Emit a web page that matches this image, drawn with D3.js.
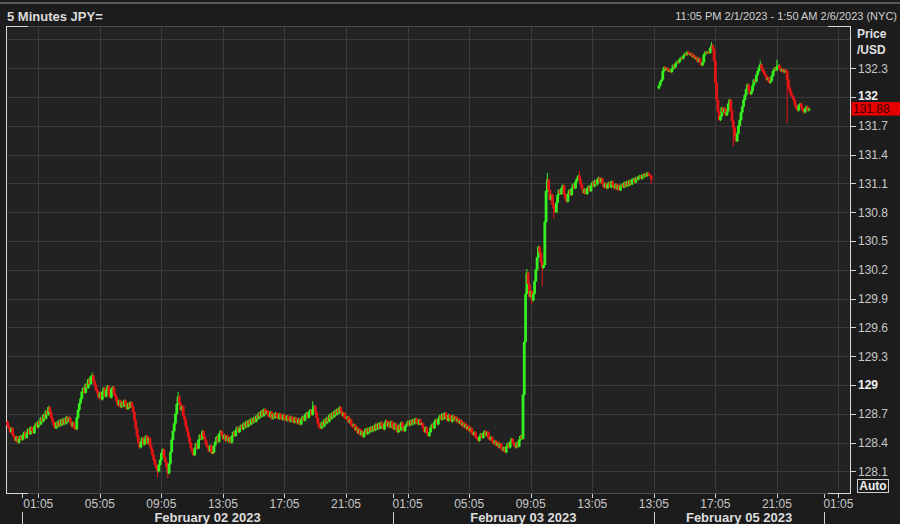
<!DOCTYPE html>
<html><head><meta charset="utf-8">
<script src="https://cdn.jsdelivr.net/npm/d3@7"></script>
<style>html,body{margin:0;padding:0;background:#1c1c1c;overflow:hidden}svg{display:block}</style>
</head><body><svg id="c" width="900" height="524"></svg>
<script>
// ---- DATA ----
const titleText = "5 Minutes JPY=";
const rangeText = "11:05 PM 2/1/2023 - 1:50 AM 2/6/2023 (NYC)";
// 5-minute closes, Feb 1 23:05 -> Feb 3 16:55 (bar slots 0..502)
const seg1Start = 0;
const seg1Open = 128.62;
const seg1Close = [
128.58,128.55,128.51,128.55,128.48,128.46,128.42,128.46,128.40,128.44,128.47,128.43,
128.48,128.51,128.45,128.50,128.54,128.49,128.56,128.52,128.50,128.57,128.60,128.56,
128.62,128.59,128.66,128.62,128.69,128.65,128.73,128.69,128.77,128.72,128.66,128.62,
128.58,128.55,128.61,128.57,128.63,128.58,128.64,128.59,128.65,128.60,128.67,128.62,
128.66,128.61,128.57,128.61,128.55,128.54,128.66,128.74,128.81,128.86,128.93,128.97,
128.92,129.01,128.97,129.06,129.01,129.09,129.10,129.04,129.00,128.95,128.92,128.87,
128.92,128.85,128.93,128.97,128.88,128.95,128.99,128.90,128.87,128.96,128.98,128.91,
128.88,128.83,128.79,128.84,128.77,128.82,128.78,128.84,128.79,128.75,128.81,128.77,
128.82,128.77,128.72,128.63,128.55,128.47,128.40,128.35,128.41,128.45,128.38,128.44,
128.47,128.39,128.45,128.37,128.33,128.27,128.22,128.17,128.13,128.10,128.17,128.22,
128.29,128.33,128.25,128.20,128.14,128.08,128.18,128.30,128.43,128.52,128.60,128.70,
128.80,128.88,128.81,128.74,128.78,128.68,128.64,128.57,128.52,128.46,128.40,128.34,
128.30,128.27,128.34,128.39,128.34,128.43,128.48,128.44,128.52,128.46,128.42,128.37,
128.35,128.31,128.37,128.30,128.30,128.37,128.41,128.46,128.41,128.49,128.52,128.48,
128.44,128.48,128.42,128.47,128.41,128.45,128.40,128.47,128.51,128.47,128.53,128.56,
128.51,128.55,128.58,128.54,128.60,128.56,128.62,128.57,128.63,128.59,128.65,128.61,
128.66,128.62,128.68,128.65,128.71,128.67,128.73,128.68,128.75,128.70,128.73,128.69,
128.67,128.72,128.65,128.70,128.66,128.71,128.67,128.65,128.70,128.66,128.64,128.69,
128.65,128.63,128.68,128.64,128.62,128.67,128.63,128.61,128.66,128.62,128.60,128.65,
128.59,128.64,128.67,128.63,128.69,128.71,128.66,128.72,128.74,128.69,128.75,128.78,
128.72,128.66,128.60,128.56,128.55,128.61,128.57,128.64,128.60,128.66,128.62,128.69,
128.65,128.71,128.67,128.73,128.69,128.75,128.71,128.77,128.72,128.68,128.71,128.66,
128.65,128.67,128.61,128.64,128.58,128.57,128.59,128.53,128.56,128.50,128.54,128.48,
128.52,128.46,128.51,128.54,128.49,128.55,128.51,128.56,128.52,128.57,128.53,128.59,
128.54,128.60,128.55,128.61,128.57,128.54,128.60,128.63,128.57,128.61,128.56,128.62,
128.57,128.54,128.60,128.55,128.51,128.58,128.53,128.61,128.56,128.52,128.57,128.59,
128.62,128.58,128.63,128.59,128.64,128.60,128.65,128.61,128.59,128.64,128.60,128.60,
128.55,128.51,128.56,128.50,128.47,128.51,128.56,128.59,128.55,128.62,128.64,128.59,
128.65,128.68,128.64,128.70,128.65,128.71,128.66,128.63,128.69,128.65,128.62,128.68,
128.64,128.67,128.62,128.65,128.60,128.63,128.58,128.61,128.56,128.59,128.54,128.57,
128.52,128.55,128.50,128.48,128.51,128.46,128.44,128.42,128.46,128.49,128.45,128.50,
128.52,128.47,128.51,128.45,128.43,128.46,128.41,128.39,128.42,128.37,128.40,128.35,
128.39,128.34,128.32,128.35,128.30,128.36,128.39,128.35,128.41,128.44,128.40,128.37,
128.35,128.40,128.36,128.43,128.47,128.44,128.90,129.45,129.95,130.17,130.05,129.92,
129.98,129.88,129.95,130.08,130.20,130.33,130.44,130.38,130.28,130.22,130.25,130.70,
131.02,131.14,131.03,130.93,130.98,130.88,130.84,130.80,130.90,130.98,131.03,130.99,
131.05,131.08,130.99,130.94,130.91,130.99,131.03,130.98,131.05,131.09,131.05,131.12,
131.15,131.18,131.14,131.09,131.04,131.00,131.04,130.99,131.05,131.07,131.02,131.08,
131.11,131.07,131.13,131.09,131.14,131.16,131.11,131.15,131.09,131.06,131.10,131.05,
131.09,131.11,131.06,131.12,131.08,131.05,131.09,131.04,131.08,131.03,131.07,131.09,
131.06,131.11,131.07,131.12,131.08,131.13,131.09,131.14,131.15,131.11,131.16,131.14,
131.17,131.18,131.15,131.19,131.17,131.20,131.18,131.21,131.19,131.18,131.14
];
// Sunday-open session (bar slots 508..625)
const seg2Start = 508;
const seg2Open = 132.09;
const seg2Close = [
132.12,132.16,132.18,132.27,132.31,132.29,132.30,132.27,132.28,132.26,132.29,132.33,
132.31,132.35,132.37,132.36,132.39,132.41,132.40,132.43,132.45,132.44,132.47,132.46,
132.44,132.45,132.42,132.43,132.40,132.41,132.37,132.40,132.36,132.33,132.36,132.44,
132.47,132.46,132.47,132.46,132.51,132.54,132.50,132.38,132.15,131.97,131.85,131.76,
131.80,131.89,131.84,131.88,131.81,131.85,131.93,131.97,131.86,131.75,131.68,131.60,
131.54,131.62,131.70,131.76,131.84,131.90,131.97,132.02,132.08,132.13,132.07,132.03,
132.06,132.12,132.18,132.16,132.23,132.27,132.31,132.34,132.30,132.27,132.24,132.22,
132.18,132.20,132.15,132.17,132.22,132.27,132.30,132.28,132.32,132.33,132.30,132.27,
132.29,132.26,132.28,132.27,132.18,132.10,132.06,132.02,132.00,131.97,131.92,131.88,
131.86,131.91,131.93,131.89,131.86,131.84,131.88,131.90,131.86,131.88
];
// Visible wicks
const wickSlots = [66, 117, 125, 133, 238, 405, 409, 417, 421, 426, 446, 502, 549, 566, 587, 600, 608];
const wickHigh  = [129.12, null, null, 128.92, 128.82, 130.20, null, null, 131.20, null, 131.22, null, 132.56, null, 132.37, 132.38, null];
const wickLow   = [null, 128.05, 128.04, null, null, null, 129.85, 130.04, null, 130.74, null, 131.10, null, 131.50, null, null, 131.74];

const xTickSlots  = [24, 72, 120, 168, 216, 264, 312, 360, 408, 456, 504, 552, 600, 648];
const xTickLabels = ["01:05","05:05","09:05","13:05","17:05","21:05","01:05","05:05","09:05","13:05","13:05","17:05","21:05","01:05"];
const daySepSlots = [11.5, 300.5, 504, 637];
const dayLabels   = ["February 02 2023", "February 03 2023", "February 05 2023"];
const yTicks = [128.1,128.4,128.7,129.0,129.3,129.6,129.9,130.2,130.5,130.8,131.1,131.4,131.7,132.0,132.3,132.6];
const lastPrice = 131.88;

// ---- BUILD CANDLES ----
function build(start, open0, closes) {
  const out = [];
  let prev = open0;
  closes.forEach((c, i) => {
    const slot = start + i;
    const o = prev;
    let hi = Math.max(o, c), lo = Math.min(o, c);
    const w = wickSlots.indexOf(slot);
    if (w >= 0) {
      if (wickHigh[w] != null) hi = Math.max(hi, wickHigh[w]);
      if (wickLow[w] != null) lo = Math.min(lo, wickLow[w]);
    }
    out.push({slot, o, c, hi, lo});
    prev = c;
  });
  return out;
}
const candles = build(seg1Start, seg1Open, seg1Close).concat(build(seg2Start, seg2Open, seg2Close));

// ---- LAYOUT ----
const L = 6, R = 850, T = 26, B = 493;
const svg = d3.select("#c");
const x = d3.scaleLinear().domain([-1.17, 657]).range([L, R]);
const y = d3.scaleLinear().domain([127.876, 132.74]).range([B, T]);
const FONT = "'Liberation Sans', Arial, sans-serif";

svg.append("rect").attr("width", 900).attr("height", 524).attr("fill", "#1c1c1c");
svg.append("rect").attr("x", 0).attr("y", 2).attr("width", 900).attr("height", 2).attr("fill", "#5a5a5a");
svg.append("rect").attr("x", L).attr("y", T).attr("width", R - L).attr("height", B - T).attr("fill", "#222222");

// grid
const grid = svg.append("g").attr("stroke", "#3a3a3a").attr("stroke-width", 1).attr("shape-rendering", "crispEdges");
grid.selectAll("line.h").data(yTicks).join("line").attr("class", "h")
  .attr("x1", L).attr("x2", R).attr("y1", d => Math.round(y(d)) + 0.5).attr("y2", d => Math.round(y(d)) + 0.5);
grid.selectAll("line.v").data(xTickSlots).join("line").attr("class", "v")
  .attr("y1", T).attr("y2", B).attr("x1", d => Math.round(x(d)) + 0.5).attr("x2", d => Math.round(x(d)) + 0.5);

// frame
const fr = svg.append("g").attr("shape-rendering", "crispEdges");
fr.append("line").attr("x1", L).attr("x2", R).attr("y1", T + 0.5).attr("y2", T + 0.5).attr("stroke", "#4a4a4a");
fr.append("line").attr("x1", L).attr("x2", R).attr("y1", B + 0.5).attr("y2", B + 0.5).attr("stroke", "#4a4a4a");
[[L, L + 22, T], [L, L + 22, B], [R - 22, R, T], [R - 22, R, B]].forEach(s =>
  fr.append("line").attr("x1", s[0]).attr("x2", s[1]).attr("y1", s[2] + 0.5).attr("y2", s[2] + 0.5).attr("stroke", "#d8d8d8").attr("stroke-width", 1.5));
fr.append("line").attr("x1", L + 0.5).attr("x2", L + 0.5).attr("y1", T).attr("y2", B + 1).attr("stroke", "#d8d8d8").attr("stroke-width", 1.5);
fr.append("line").attr("x1", R + 0.5).attr("x2", R + 0.5).attr("y1", T).attr("y2", B + 1).attr("stroke", "#d8d8d8").attr("stroke-width", 1.5);

// candles
const col = d => d.c > d.o ? "#35ef20" : (d.c < d.o ? "#e41515" : "#c9b21c");
const cg = svg.append("g");
cg.selectAll("line.w").data(candles).join("line").attr("class", "w")
  .attr("x1", d => x(d.slot)).attr("x2", d => x(d.slot))
  .attr("y1", d => y(d.hi) - 1).attr("y2", d => y(d.lo) + 1)
  .attr("stroke", col).attr("stroke-width", 1);
cg.selectAll("rect").data(candles).join("rect")
  .attr("x", d => x(d.slot) - 1.4).attr("width", 2.8)
  .attr("y", d => y(Math.max(d.o, d.c)))
  .attr("height", d => Math.max(1.5, Math.abs(y(d.o) - y(d.c))))
  .attr("fill", col);

// y axis
const ya = svg.append("g");
const yLab = yTicks.filter(v => v <= 132.3);
ya.selectAll("line").data(yLab).join("line")
  .attr("x1", R).attr("x2", R + 6).attr("y1", d => Math.round(y(d)) + 0.5).attr("y2", d => Math.round(y(d)) + 0.5)
  .attr("stroke", "#d0d0d0").attr("shape-rendering", "crispEdges");
ya.selectAll("text").data(yLab).join("text")
  .attr("x", R + 8).attr("y", d => y(d) - (d === 132 ? 1 : 0)).attr("dy", "0.36em")
  .attr("font-family", FONT).attr("font-size", 12)
  .attr("font-weight", d => Number.isInteger(Math.round(d * 10) / 10) ? "bold" : "normal")
  .attr("fill", d => Number.isInteger(Math.round(d * 10) / 10) ? "#f0f0f0" : "#c8c8c8")
  .text(d => String(+d.toFixed(1)));
svg.append("text").attr("x", 857).attr("y", 38).attr("font-family", FONT).attr("font-size", 12).attr("font-weight", "bold").attr("fill", "#e0e0e0").text("Price");
svg.append("text").attr("x", 857).attr("y", 54).attr("font-family", FONT).attr("font-size", 12).attr("font-weight", "bold").attr("fill", "#e0e0e0").text("/USD");

// last price tag
const py = y(lastPrice);
svg.append("rect").attr("x", R + 1.5).attr("y", py - 6.5).attr("width", 900 - R - 1.5).attr("height", 13.5).attr("fill", "#e60000");
svg.append("text").attr("x", R + 3).attr("y", py + 0.5).attr("dy", "0.36em").attr("font-family", FONT).attr("font-size", 12)
  .attr("fill", "#3a0000").text(lastPrice.toFixed(2));

// Auto button
svg.append("rect").attr("x", 857.5).attr("y", 479.5).attr("width", 31).attr("height", 13).attr("fill", "none").attr("stroke", "#d0d0d0");
svg.append("text").attr("x", 873).attr("y", 490).attr("text-anchor", "middle").attr("font-family", FONT).attr("font-size", 12)
  .attr("font-weight", "bold").attr("fill", "#f0f0f0").text("Auto");

// x axis
const xa = svg.append("g").attr("shape-rendering", "crispEdges");
xa.selectAll("line.t").data(xTickSlots).join("line").attr("class", "t")
  .attr("x1", d => Math.round(x(d)) + 0.5).attr("x2", d => Math.round(x(d)) + 0.5).attr("y1", B + 1).attr("y2", B + 5)
  .attr("stroke", "#d0d0d0");
xa.selectAll("text").data(xTickSlots).join("text")
  .attr("x", d => x(d)).attr("y", 508).attr("text-anchor", "middle")
  .attr("font-family", FONT).attr("font-size", 12).attr("fill", "#c8c8c8")
  .text((d, i) => xTickLabels[i]);
daySepSlots.forEach(s => {
  const xx = Math.round(x(s)) + 0.5;
  xa.append("line").attr("x1", xx).attr("x2", xx).attr("y1", B + 1).attr("y2", B + 5).attr("stroke", "#d0d0d0");
  xa.append("line").attr("x1", xx).attr("x2", xx).attr("y1", 512).attr("y2", 524).attr("stroke", "#d0d0d0");
});
dayLabels.forEach((t, i) => {
  svg.append("text").attr("x", (x(daySepSlots[i]) + x(daySepSlots[i + 1])) / 2).attr("y", 522)
    .attr("text-anchor", "middle").attr("font-family", FONT).attr("font-size", 13).attr("font-weight", "bold")
    .attr("fill", "#dcdcdc").text(t);
});

// titles
svg.append("text").attr("x", 7).attr("y", 21).attr("font-family", FONT).attr("font-size", 13).attr("font-weight", "bold")
  .attr("fill", "#dcdcdc").text(titleText);
svg.append("text").attr("x", 897).attr("y", 20).attr("text-anchor", "end").attr("font-family", FONT).attr("font-size", 11)
  .attr("fill", "#d0d0d0").text(rangeText);
</script>
</body></html>
